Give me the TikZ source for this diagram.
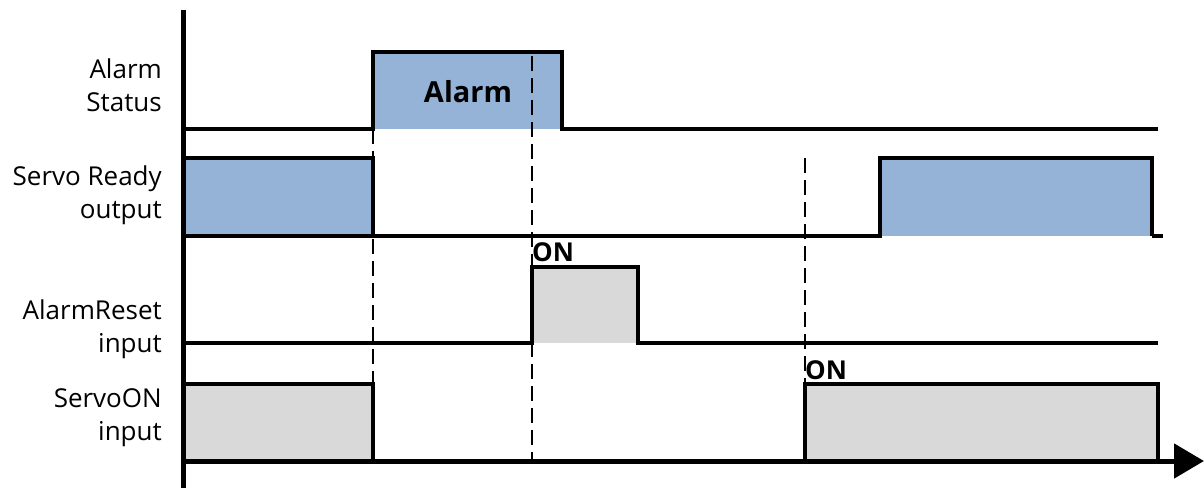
\documentclass[tikz,border=0pt]{standalone}
\usepackage{fontspec}
\setmainfont{Open Sans}
\usetikzlibrary{arrows.meta}
\definecolor{bleu}{HTML}{95B3D7}
\definecolor{gris}{HTML}{D9D9D9}
\begin{document}
\begin{tikzpicture}[x=1pt,y=-1pt]
	% Styles des signaux et des textes
	\tikzset{
		signal/.style={line width=3.5pt, join=miter},
		pointille/.style={line width=2pt, dash pattern=on 15pt off 7pt},
		etiquette/.style={align=right, anchor=east, inner sep=0pt, font=\fontsize{26}{33}\selectfont},
		marque/.style={anchor=south west, inner sep=0pt, font=\bfseries\fontsize{26}{30}\selectfont}
	}
	\useasboundingbox (0,0) rectangle (1204,488);
	% Impulsions
	\fill[bleu] (373,129) rectangle (562,52);
	\fill[bleu] (183,236) rectangle (373,158);
	\fill[bleu] (880,236) rectangle (1152,158);
	\fill[gris] (532,343) rectangle (638,267);
	\fill[gris] (183,461) rectangle (373,384);
	\fill[gris] (805,461) rectangle (1158,384);
	% Lignes pointillees
	\draw[pointille] (373,129) -- (373,461);
	\draw[pointille] (532,56) -- (532,461);
	\draw[pointille] (805,158) -- (805,461);
	% Lignes de base et fronts
	\draw[signal] (183,129) -- (373,129) -- (373,52) -- (562,52) -- (562,129) -- (1158,129);
	\draw[signal] (183,158) -- (373,158) -- (373,236);
	\draw[signal] (183,236) -- (880,236) -- (880,158) -- (1152,158) -- (1152,236);
	\draw[signal] (1152,236) -- (1163,236);
	\draw[signal] (183,343) -- (532,343) -- (532,267) -- (638,267) -- (638,343) -- (1158,343);
	\draw[signal] (183,384) -- (373,384) -- (373,461);
	\draw[signal] (805,461) -- (805,384) -- (1158,384) -- (1158,461);
	% Axes
	\draw[line width=5pt] (183,10) -- (183,488);
	\draw[line width=5pt, -{Triangle[length=30pt,width=34pt]}] (183,461) -- (1204,461);
	% Textes
	\node[etiquette] (status) at (162,85) {Alarm\\Status};
	\node[etiquette] (ready) at (162,195) {Servo Ready\\output};
	\node[etiquette] (reset) at (162,329) {AlarmReset\\input};
	\node[etiquette] (servoon) at (162,418) {ServoON\\input};
	\node[font=\bfseries\fontsize{29}{34}\selectfont, inner sep=0pt] (alarme) at (468,92) {Alarm};
	\node[marque] (onreset) at (532,262) {ON};
	\node[marque] (onservo) at (805,380) {ON};
\end{tikzpicture}
\end{document}
